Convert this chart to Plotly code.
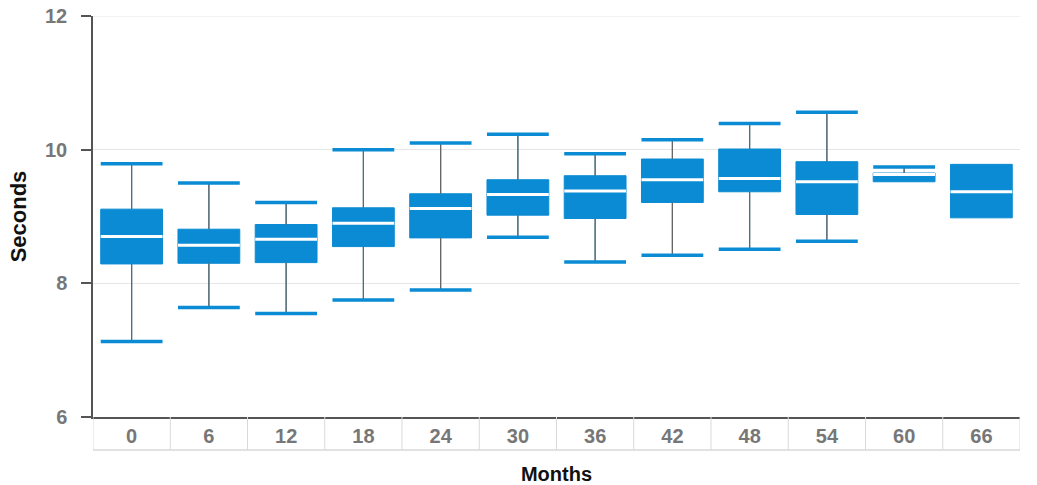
import plotly.graph_objects as go

months = ["0", "6", "12", "18", "24", "30", "36", "42", "48", "54", "60", "66"]
lower = [7.13, 7.64, 7.55, 7.75, 7.90, 8.69, 8.32, 8.42, 8.51, 8.63, 9.52, 8.98]
q1 = [8.29, 8.30, 8.31, 8.55, 8.68, 9.02, 8.97, 9.21, 9.37, 9.03, 9.52, 8.98]
median = [8.70, 8.57, 8.66, 8.90, 9.12, 9.33, 9.38, 9.55, 9.57, 9.52, 9.63, 9.37]
q3 = [9.11, 8.81, 8.88, 9.13, 9.34, 9.55, 9.61, 9.86, 10.01, 9.82, 9.65, 9.78]
upper = [9.79, 9.50, 9.21, 10.00, 10.10, 10.23, 9.94, 10.15, 10.39, 10.56, 9.74, 9.78]
y_ticks = [6, 8, 10, 12]

BLUE = "#0a8bd3"
STEM = "#666666"
BOX_W = 0.8
half = BOX_W / 2
idx = list(range(len(months)))

fig = go.Figure()
fig.add_trace(go.Box(
    x=idx, q1=q1, median=median, q3=q3, lowerfence=lower, upperfence=upper,
    fillcolor=BLUE, line=dict(color=BLUE, width=1), whiskerwidth=0,
    width=BOX_W, boxpoints=False, showlegend=False, hoverinfo="skip",
))

# whisker stems
sx, sy = [], []
for i in idx:
    if upper[i] > q3[i]:
        sx += [i, i, None]; sy += [q3[i], upper[i], None]
    if lower[i] < q1[i]:
        sx += [i, i, None]; sy += [lower[i], q1[i], None]
fig.add_trace(go.Scatter(x=sx, y=sy, mode="lines", line=dict(color=STEM, width=1.3),
                         showlegend=False, hoverinfo="skip"))

# medians
mx, my = [], []
for i in idx:
    mx += [i - half, i + half, None]; my += [median[i], median[i], None]
fig.add_trace(go.Scatter(x=mx, y=my, mode="lines", line=dict(color="white", width=3),
                         showlegend=False, hoverinfo="skip"))

# caps
cx, cy = [], []
for i in idx:
    if upper[i] > q3[i]:
        cx += [i - half, i + half, None]; cy += [upper[i], upper[i], None]
    if lower[i] < q1[i]:
        cx += [i - half, i + half, None]; cy += [lower[i], lower[i], None]
fig.add_trace(go.Scatter(x=cx, y=cy, mode="lines", line=dict(color=BLUE, width=3.5),
                         showlegend=False, hoverinfo="skip"))

FIG_W, FIG_H = 1037, 485
M_L, M_T, M_R, M_B = 93, 16, 17, 68
plot_h = FIG_H - M_T - M_B
cell = 33 / plot_h
shapes = []
for i in range(len(months) + 1):
    shapes.append(dict(type="line", xref="x", yref="paper", x0=i - 0.5, x1=i - 0.5,
                       y0=-cell, y1=0, line=dict(color="#d9d9d9", width=1)))
shapes.append(dict(type="line", xref="x", yref="paper", x0=-0.5, x1=len(months) - 0.5,
                   y0=-cell, y1=-cell, line=dict(color="#d9d9d9", width=1.5)))
# light top border line at the 12 level
shapes.append(dict(type="line", xref="paper", yref="y", x0=0, x1=1, y0=y_ticks[-1], y1=y_ticks[-1],
                   line=dict(color="#e6e6e6", width=1), layer="below"))

fig.update_layout(
    width=FIG_W, height=FIG_H,
    margin=dict(l=M_L, r=M_R, t=M_T, b=M_B, autoexpand=False),
    paper_bgcolor="white", plot_bgcolor="white",
    font=dict(family="Liberation Sans, Arial, sans-serif"),
    shapes=shapes,
    xaxis=dict(
        range=[-0.5, len(months) - 0.5], tickvals=idx, ticktext=months,
        showgrid=False, zeroline=False, showline=True, linecolor="#555555", linewidth=2,
        ticks="", ticklabelstandoff=0,
        tickfont=dict(size=20, color="#777777", weight="bold"),
        title=dict(text="Months", font=dict(size=20, color="#111111", weight="bold"), standoff=26),
    ),
    yaxis=dict(
        range=[6, 12], tickvals=y_ticks,
        showgrid=True, gridcolor="#e6e6e6", gridwidth=1, zeroline=False,
        showline=True, linecolor="#555555", linewidth=1.5,
        ticks="outside", ticklen=10, tickcolor="#555555", tickwidth=1.5,
        ticklabelstandoff=10, ticklabeloverflow="allow",
        tickfont=dict(size=20, color="#777777", weight="bold"),
        title=dict(text="Seconds", font=dict(size=22, color="#111111", weight="bold"), standoff=12),
    ),
)

fig.write_html(
    "out.html",
    config={"displayModeBar": False},
    post_script="document.body.style.margin='0px';document.body.style.overflow='hidden';",
)
